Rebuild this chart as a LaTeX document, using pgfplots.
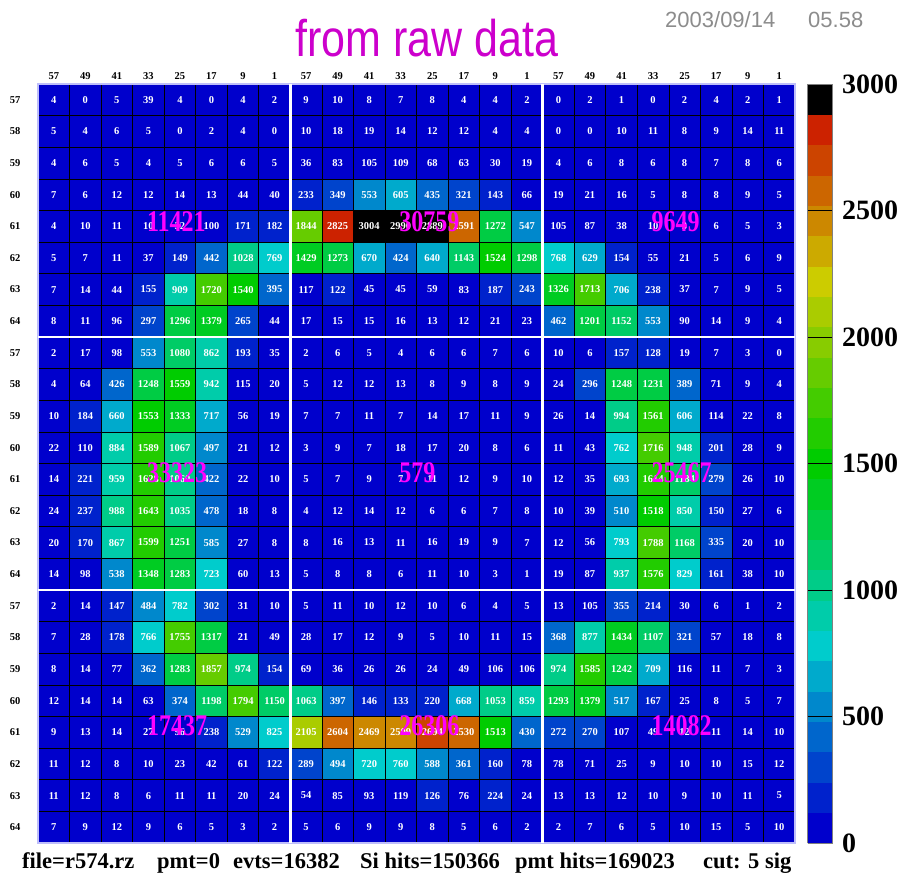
\documentclass[border=0pt]{standalone}
\usepackage{graphicx}
\usepackage{pgfplots}
\pgfplotsset{compat=1.18}
\usepackage{pgfplotstable}
\usepackage{fontspec}
\setmainfont{Liberation Serif}
\newfontfamily\sansfont{Liberation Sans}
\definecolor{titlemag}{RGB}{204,0,204}
\definecolor{totmag}{RGB}{255,0,255}
\definecolor{framecol}{RGB}{190,190,250}

% 25-step palette, 120 counts per step (0 ... 3000)
\pgfplotsset{
  colormap={rootpal}{
    rgb255=(0,0,204) rgb255=(0,34,204) rgb255=(0,68,204) rgb255=(0,102,204)
    rgb255=(0,136,204) rgb255=(0,170,204) rgb255=(0,204,204) rgb255=(0,204,170)
    rgb255=(0,204,136) rgb255=(0,204,102) rgb255=(0,204,68) rgb255=(0,204,34)
    rgb255=(0,204,0) rgb255=(34,204,0) rgb255=(68,204,0) rgb255=(102,204,0)
    rgb255=(136,204,0) rgb255=(170,204,0) rgb255=(204,204,0) rgb255=(204,170,0)
    rgb255=(204,136,0) rgb255=(204,102,0) rgb255=(204,68,0) rgb255=(204,34,0)
    rgb255=(0,0,0)
  },
}

% hit counts, row by row (24 pads per row, top row first)
\pgfplotstableread[row sep=\\]{
v\\
4\\0\\5\\39\\4\\0\\4\\2\\ 9\\10\\8\\7\\8\\4\\4\\2\\ 0\\2\\1\\0\\2\\4\\2\\1\\
5\\4\\6\\5\\0\\2\\4\\0\\ 10\\18\\19\\14\\12\\12\\4\\4\\ 0\\0\\10\\11\\8\\9\\14\\11\\
4\\6\\5\\4\\5\\6\\6\\5\\ 36\\83\\105\\109\\68\\63\\30\\19\\ 4\\6\\8\\6\\8\\7\\8\\6\\
7\\6\\12\\12\\14\\13\\44\\40\\ 233\\349\\553\\605\\435\\321\\143\\66\\ 19\\21\\16\\5\\8\\8\\9\\5\\
4\\10\\11\\10\\32\\100\\171\\182\\ 1844\\2825\\3004\\2990\\2889\\2591\\1272\\547\\ 105\\87\\38\\10\\3\\6\\5\\3\\
5\\7\\11\\37\\149\\442\\1028\\769\\ 1429\\1273\\670\\424\\640\\1143\\1524\\1298\\ 768\\629\\154\\55\\21\\5\\6\\9\\
7\\14\\44\\155\\909\\1720\\1540\\395\\ 117\\122\\45\\45\\59\\83\\187\\243\\ 1326\\1713\\706\\238\\37\\7\\9\\5\\
8\\11\\96\\297\\1296\\1379\\265\\44\\ 17\\15\\15\\16\\13\\12\\21\\23\\ 462\\1201\\1152\\553\\90\\14\\9\\4\\
2\\17\\98\\553\\1080\\862\\193\\35\\ 2\\6\\5\\4\\6\\6\\7\\6\\ 10\\6\\157\\128\\19\\7\\3\\0\\
4\\64\\426\\1248\\1559\\942\\115\\20\\ 5\\12\\12\\13\\8\\9\\8\\9\\ 24\\296\\1248\\1231\\389\\71\\9\\4\\
10\\184\\660\\1553\\1333\\717\\56\\19\\ 7\\7\\11\\7\\14\\17\\11\\9\\ 26\\14\\994\\1561\\606\\114\\22\\8\\
22\\110\\884\\1589\\1067\\497\\21\\12\\ 3\\9\\7\\18\\17\\20\\8\\6\\ 11\\43\\762\\1716\\948\\201\\28\\9\\
14\\221\\959\\1628\\1060\\422\\22\\10\\ 5\\7\\9\\7\\11\\12\\9\\10\\ 12\\35\\693\\1614\\1184\\279\\26\\10\\
24\\237\\988\\1643\\1035\\478\\18\\8\\ 4\\12\\14\\12\\6\\6\\7\\8\\ 10\\39\\510\\1518\\850\\150\\27\\6\\
20\\170\\867\\1599\\1251\\585\\27\\8\\ 8\\16\\13\\11\\16\\19\\9\\7\\ 12\\56\\793\\1788\\1168\\335\\20\\10\\
14\\98\\538\\1348\\1283\\723\\60\\13\\ 5\\8\\8\\6\\11\\10\\3\\1\\ 19\\87\\937\\1576\\829\\161\\38\\10\\
2\\14\\147\\484\\782\\302\\31\\10\\ 5\\11\\10\\12\\10\\6\\4\\5\\ 13\\105\\355\\214\\30\\6\\1\\2\\
7\\28\\178\\766\\1755\\1317\\21\\49\\ 28\\17\\12\\9\\5\\10\\11\\15\\ 368\\877\\1434\\1107\\321\\57\\18\\8\\
8\\14\\77\\362\\1283\\1857\\974\\154\\ 69\\36\\26\\26\\24\\49\\106\\106\\ 974\\1585\\1242\\709\\116\\11\\7\\3\\
12\\14\\14\\63\\374\\1198\\1794\\1150\\ 1063\\397\\146\\133\\220\\668\\1053\\859\\ 1293\\1379\\517\\167\\25\\8\\5\\7\\
9\\13\\14\\27\\96\\238\\529\\825\\ 2105\\2604\\2469\\2509\\2694\\2530\\1513\\430\\ 272\\270\\107\\49\\12\\11\\14\\10\\
11\\12\\8\\10\\23\\42\\61\\122\\ 289\\494\\720\\760\\588\\361\\160\\78\\ 78\\71\\25\\9\\10\\10\\15\\12\\
11\\12\\8\\6\\11\\11\\20\\24\\ 54\\85\\93\\119\\126\\76\\224\\24\\ 13\\13\\12\\10\\9\\10\\11\\5\\
7\\9\\12\\9\\6\\5\\3\\2\\ 5\\6\\9\\9\\8\\5\\6\\2\\ 2\\7\\6\\5\\10\\15\\5\\10\\
}\cells

% block totals, written at the centre row of each 8x8 block
\pgfplotstableread{
x     y     t
2.95  3.85  11421
10.95 3.85  30759
18.95 3.85  9649
2.95  11.8  33323
10.95 11.8  579
18.95 11.8  25467
2.95  19.8  17437
10.95 19.8  26306
18.95 19.8  14082
}\totals

\pgfplotsset{
  padgeom/.style={
    at={(38pt,30pt)}, anchor=south west,
    scale only axis, width=757pt, height=759pt,
    xmin=-0.5, xmax=23.5, ymin=-0.5, ymax=23.5, y dir=reverse,
    enlargelimits=false,
  },
}
% column and row of a pad from its position in the list
\newcommand{\padrow}{floor((\coordindex+0.5)/24)}
\newcommand{\padcol}{(\coordindex-24*floor((\coordindex+0.5)/24))}

\begin{document}
\begin{tikzpicture}
\useasboundingbox (0,0) rectangle (901pt,873pt);

\begin{axis}[
  padgeom,
  colormap name=rootpal, colormap access=piecewise constant,
  point meta min=0, point meta max=3000,
  xtick={0,...,23}, ytick={0,...,23},
  xticklabels={57,49,41,33,25,17,9,1,57,49,41,33,25,17,9,1,57,49,41,33,25,17,9,1},
  yticklabels={57,58,59,60,61,62,63,64,57,58,59,60,61,62,63,64,57,58,59,60,61,62,63,64},
  xticklabel pos=upper,
  major tick length=0pt, minor tick length=0pt,
  tick label style={font=\bfseries\fontsize{10.5}{12}\selectfont, text=black},
  yticklabel style={xshift=-14pt},
  xticklabel style={yshift=1pt},
  minor xtick={-0.5,0.5,...,23.5}, minor ytick={-0.5,0.5,...,23.5},
  xminorgrids, yminorgrids,
  minor grid style={black, line width=0.6pt},
  extra x ticks={7.5,15.5}, extra y ticks={7.5,15.5},
  extra x tick labels={}, extra y tick labels={},
  extra x tick style={grid=major, major grid style={white, line width=2.4pt}, major tick length=0pt},
  extra y tick style={grid=major, major grid style={white, line width=2.4pt}, major tick length=0pt},
  axis on top,
  axis line style={framecol, line width=1.2pt},
  colorbar,
  colorbar style={
    scale only axis, width=25pt,
    at={(parent axis.north east)}, anchor=north west, xshift=4pt,
    ytick={0,500,...,3000},
    yticklabel pos=right, ytick pos=right,
    tick align=inside, major tick length=25pt,
    every tick/.style={black, line width=0.6pt},
    yticklabel style={font=\bfseries\fontsize{28}{28}\selectfont, xshift=6pt},
    /pgf/number format/1000 sep={},
    /pgf/number format/assume math mode=true,
    axis line style={black!50, line width=0.6pt},
  },
]
\addplot[matrix plot*, mesh/cols=24, point meta=explicit]
  table[x=v, y=v, x expr={\padcol}, y expr={\padrow}, meta=v] {\cells};
\addplot[only marks, mark=none, point meta=explicit symbolic,
  nodes near coords, nodes near coords align=center,
  every node near coord/.append style={text=white, anchor=center, inner sep=0pt,
    font=\bfseries\fontsize{10.5}{12}\selectfont}]
  table[x=v, y=v, x expr={\padcol}, y expr={\padrow}, meta=v] {\cells};
\end{axis}

% block totals drawn over the pad grid
\begin{axis}[padgeom, hide axis]
\addplot[only marks, mark=none, point meta=explicit symbolic,
  nodes near coords={\scalebox{1}[1.25]{\pgfplotspointmeta}},
  every node near coord/.append style={text=totmag, anchor=west, inner sep=0pt,
    font=\bfseries\fontsize{24}{24}\selectfont}]
  table[x=x, y=y, meta=t] {\totals};
\end{axis}

\node[anchor=base, text=titlemag, inner sep=0pt, font=\sansfont\fontsize{43}{43}\selectfont]
  at (427pt,816pt) {\scalebox{1}[1.2]{from raw data}};
\begin{scope}[every node/.style={anchor=base west, text=black!45, inner sep=0pt,
    font=\sansfont\fontsize{22}{22}\selectfont}]
  \node at (665pt,845pt) {2003/09/14};
  \node at (808pt,845pt) {05.58};
\end{scope}
\begin{scope}[every node/.style={anchor=base west, inner sep=0pt,
    font=\bfseries\fontsize{22.5}{22.5}\selectfont}]
  \node at (22pt,5pt) {file=r574.rz};
  \node at (157pt,5pt) {pmt=0};
  \node at (233pt,5pt) {evts=16382};
  \node at (360pt,5pt) {Si hits=150366};
  \node at (515pt,5pt) {pmt hits=169023};
  \node at (703pt,5pt) {cut: 5 sig};
\end{scope}
\end{tikzpicture}
\end{document}
